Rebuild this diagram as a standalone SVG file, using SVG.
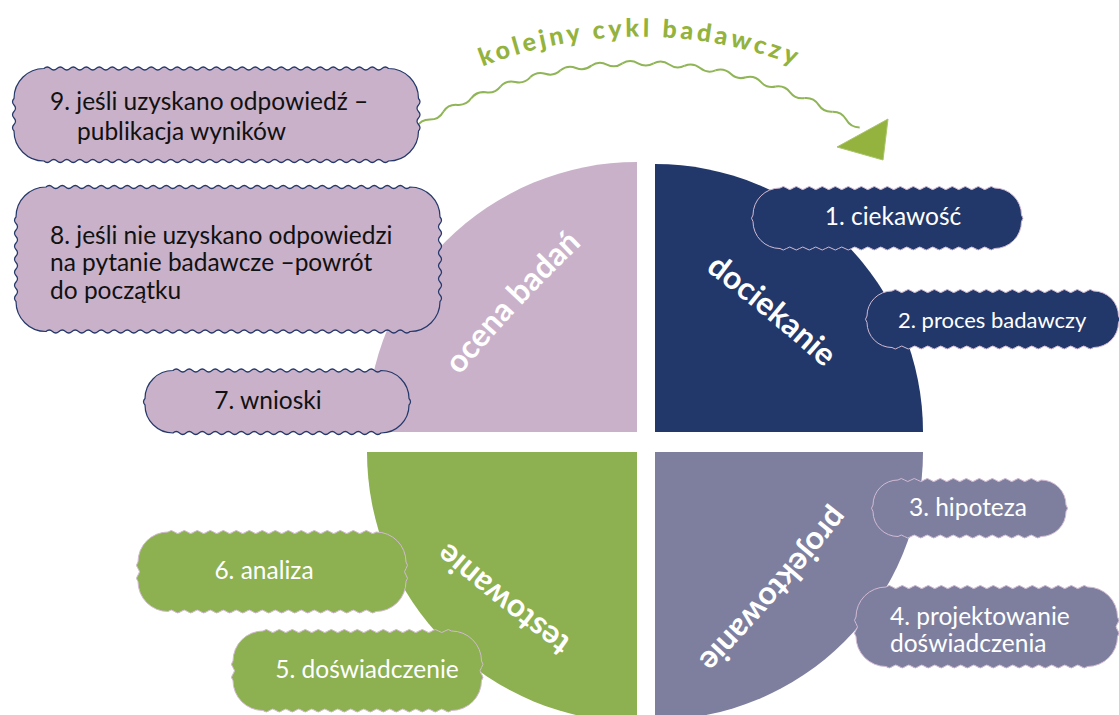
<svg xmlns="http://www.w3.org/2000/svg" xmlns:xlink="http://www.w3.org/1999/xlink" width="1119" height="715" viewBox="0 0 1119 715">
<style>
.lbl{font-family:Lato,"Liberation Sans",sans-serif;font-size:32px;font-weight:700;fill:#ffffff}
.bt{font-family:Lato,"Liberation Sans",sans-serif;font-size:24.5px;fill:#ffffff}
.bk{fill:#111111}
.pk{fill:#c9b1ca;stroke:#24386a;stroke-width:1.2}
.nv{fill:#22386a;stroke:#d2bad3;stroke-width:1}
.pu{fill:#7e7f9f;stroke:#d2bad3;stroke-width:1}
.gr{fill:#8db050;stroke:#d2bad3;stroke-width:1}
.wave{fill:none;stroke:#8fb556;stroke-width:2}
.arch{font-family:Lato,"Liberation Sans",sans-serif;font-size:25px;font-weight:900;fill:#93b33e;letter-spacing:3.5px}
</style>
<defs>
<path id="wv" d="M0 0q7.8 -4.6 15.6 0t15.6 0"/>
<path id="pArch" d="M440 86 A430 430 0 0 1 840 86"/>
<path id="pOc" d="M440.5 399.4 Q515.5 304.4 604.5 223.4"/>
<path id="pDo" d="M661.7 238.6 Q768.7 313.6 863.7 404.6"/>
<path id="pTe" d="M614.2 669.4 Q506.2 596.4 410.2 507.4"/>
<path id="pPr" d="M855.5 475.7 Q770.5 587.7 671.5 685.7"/>
</defs>
<rect width="1119" height="715" fill="#ffffff"/>

<g id="q-ocena">
<path d="M637 432 L367 432 A270 270 0 0 1 637 162 Z" fill="#c9b1ca"/>
<text class="lbl"><textPath xlink:href="#pOc" href="#pOc" startOffset="50%" text-anchor="middle">ocena badań</textPath></text>
</g>
<g id="q-dociekanie">
<path d="M655 432 L655 164 A268 268 0 0 1 923 432 Z" fill="#22386a"/>
<text class="lbl"><textPath xlink:href="#pDo" href="#pDo" startOffset="50%" text-anchor="middle">dociekanie</textPath></text>
</g>
<g id="q-testowanie">
<path d="M637 452 L367 452 A270 270 0 0 0 637 722 Z" fill="#8db050"/>
<text class="lbl"><textPath xlink:href="#pTe" href="#pTe" startOffset="50%" text-anchor="middle">testowanie</textPath></text>
</g>
<g id="q-projektowanie">
<path d="M655 452 L923 452 A268 268 0 0 1 655 720 Z" fill="#7e7f9f"/>
<text class="lbl"><textPath xlink:href="#pPr" href="#pPr" startOffset="50%" text-anchor="middle">projektowanie</textPath></text>
</g>

<g id="connectors">
<g class="wave">
<use href="#wv" xlink:href="#wv" transform="translate(416.4 127.4) rotate(-30.24)"/>
<use href="#wv" xlink:href="#wv" transform="translate(443.3 111.7) rotate(-25.92)"/>
<use href="#wv" xlink:href="#wv" transform="translate(471.4 98.1) rotate(-21.6)"/>
<use href="#wv" xlink:href="#wv" transform="translate(500.4 86.6) rotate(-17.28)"/>
<use href="#wv" xlink:href="#wv" transform="translate(530.1 77.3) rotate(-12.96)"/>
<use href="#wv" xlink:href="#wv" transform="translate(560.5 70.3) rotate(-8.64)"/>
<use href="#wv" xlink:href="#wv" transform="translate(591.3 65.7) rotate(-4.32)"/>
<use href="#wv" xlink:href="#wv" transform="translate(622.4 63.3)"/>
<use href="#wv" xlink:href="#wv" transform="translate(653.6 63.3) rotate(4.32)"/>
<use href="#wv" xlink:href="#wv" transform="translate(684.7 65.7) rotate(8.64)"/>
<use href="#wv" xlink:href="#wv" transform="translate(715.5 70.3) rotate(12.96)"/>
<use href="#wv" xlink:href="#wv" transform="translate(745.9 77.3) rotate(17.28)"/>
<use href="#wv" xlink:href="#wv" transform="translate(775.6 86.6) rotate(21.6)"/>
<use href="#wv" xlink:href="#wv" transform="translate(804.6 98.1) rotate(25.92)"/>
<use href="#wv" xlink:href="#wv" transform="translate(832.7 111.7) rotate(30.24)"/>
</g>
<polygon points="837,147 888,119 883,160" fill="#93b33e" stroke="#a9c46a" stroke-width="1" stroke-linejoin="round"/>
<text class="arch"><textPath xlink:href="#pArch" href="#pArch" startOffset="50%" text-anchor="middle">kolejny cykl badawczy</textPath></text>
</g>

<g id="box9">
<path class="pk" d="M44 68.5 q3.25 -3 6.5 0 t6.5 0 6.5 0 6.5 0 6.5 0 6.5 0 6.5 0 6.5 0 6.5 0 6.5 0 6.5 0 6.5 0 6.5 0 6.5 0 6.5 0 6.5 0 6.5 0 6.5 0 6.5 0 6.5 0 6.5 0 6.5 0 6.5 0 6.5 0 6.5 0 6.5 0 6.5 0 6.5 0 6.5 0 6.5 0 6.5 0 6.5 0 6.5 0 6.5 0 6.5 0 6.5 0 6.5 0 6.5 0 6.5 0 6.5 0 6.5 0 6.5 0 6.5 0 6.5 0 6.5 0 6.5 0 6.5 0 6.5 0 6.5 0 6.5 0 6.5 0 6.5 0 6.5 0 A30 30 0 0 1 418.5 98.5 q3 3.25 0 6.5 t0 6.5 0 6.5 0 6.5 0 6.5 A30 30 0 0 1 388.5 161 q-3.25 3 -6.5 0 t-6.5 0 -6.5 0 -6.5 0 -6.5 0 -6.5 0 -6.5 0 -6.5 0 -6.5 0 -6.5 0 -6.5 0 -6.5 0 -6.5 0 -6.5 0 -6.5 0 -6.5 0 -6.5 0 -6.5 0 -6.5 0 -6.5 0 -6.5 0 -6.5 0 -6.5 0 -6.5 0 -6.5 0 -6.5 0 -6.5 0 -6.5 0 -6.5 0 -6.5 0 -6.5 0 -6.5 0 -6.5 0 -6.5 0 -6.5 0 -6.5 0 -6.5 0 -6.5 0 -6.5 0 -6.5 0 -6.5 0 -6.5 0 -6.5 0 -6.5 0 -6.5 0 -6.5 0 -6.5 0 -6.5 0 -6.5 0 -6.5 0 -6.5 0 -6.5 0 -6.5 0 A30 30 0 0 1 14 131 q-3 -3.25 0 -6.5 t0 -6.5 0 -6.5 0 -6.5 0 -6.5 A30 30 0 0 1 44 68.5 Z"/>
<text class="bt bk" x="50" y="110">9. jeśli uzyskano odpowiedź –</text>
<text class="bt bk" x="77" y="140">publikacja wyników</text>
</g>

<g id="box8">
<path class="pk" d="M46 187 q3.25 -3 6.5 0 t6.5 0 6.5 0 6.5 0 6.5 0 6.5 0 6.5 0 6.5 0 6.5 0 6.5 0 6.5 0 6.5 0 6.5 0 6.5 0 6.5 0 6.5 0 6.5 0 6.5 0 6.5 0 6.5 0 6.5 0 6.5 0 6.5 0 6.5 0 6.5 0 6.5 0 6.5 0 6.5 0 6.5 0 6.5 0 6.5 0 6.5 0 6.5 0 6.5 0 6.5 0 6.5 0 6.5 0 6.5 0 6.5 0 6.5 0 6.5 0 6.5 0 6.5 0 6.5 0 6.5 0 6.5 0 6.5 0 6.5 0 6.5 0 6.5 0 6.5 0 6.5 0 6.5 0 6.5 0 6.5 0 6.5 0 A30 30 0 0 1 440 217 q3 3.25 0 6.5 t0 6.5 0 6.5 0 6.5 0 6.5 0 6.5 0 6.5 0 6.5 0 6.5 0 6.5 0 6.5 0 6.5 0 6.5 A30 30 0 0 1 410 331.5 q-3.25 3 -6.5 0 t-6.5 0 -6.5 0 -6.5 0 -6.5 0 -6.5 0 -6.5 0 -6.5 0 -6.5 0 -6.5 0 -6.5 0 -6.5 0 -6.5 0 -6.5 0 -6.5 0 -6.5 0 -6.5 0 -6.5 0 -6.5 0 -6.5 0 -6.5 0 -6.5 0 -6.5 0 -6.5 0 -6.5 0 -6.5 0 -6.5 0 -6.5 0 -6.5 0 -6.5 0 -6.5 0 -6.5 0 -6.5 0 -6.5 0 -6.5 0 -6.5 0 -6.5 0 -6.5 0 -6.5 0 -6.5 0 -6.5 0 -6.5 0 -6.5 0 -6.5 0 -6.5 0 -6.5 0 -6.5 0 -6.5 0 -6.5 0 -6.5 0 -6.5 0 -6.5 0 -6.5 0 -6.5 0 -6.5 0 -6.5 0 A30 30 0 0 1 16 301.5 q-3 -3.25 0 -6.5 t0 -6.5 0 -6.5 0 -6.5 0 -6.5 0 -6.5 0 -6.5 0 -6.5 0 -6.5 0 -6.5 0 -6.5 0 -6.5 0 -6.5 A30 30 0 0 1 46 187 Z"/>
<text class="bt bk" x="50" y="244">8. jeśli nie uzyskano odpowiedzi</text>
<text class="bt bk" x="50" y="271">na pytanie badawcze –powrót</text>
<text class="bt bk" x="50" y="299">do początku</text>
</g>

<g id="box7">
<path class="pk" d="M173 370.5 q3.25 -3 6.5 0 t6.5 0 6.5 0 6.5 0 6.5 0 6.5 0 6.5 0 6.5 0 6.5 0 6.5 0 6.5 0 6.5 0 6.5 0 6.5 0 6.5 0 6.5 0 6.5 0 6.5 0 6.5 0 6.5 0 6.5 0 6.5 0 6.5 0 6.5 0 6.5 0 6.5 0 6.5 0 6.5 0 6.5 0 6.5 0 6.5 0 6.5 0 A28 28 0 0 1 409 398.5 q3 3.25 0 6.5 A28 28 0 0 1 381 433 q-3.25 3 -6.5 0 t-6.5 0 -6.5 0 -6.5 0 -6.5 0 -6.5 0 -6.5 0 -6.5 0 -6.5 0 -6.5 0 -6.5 0 -6.5 0 -6.5 0 -6.5 0 -6.5 0 -6.5 0 -6.5 0 -6.5 0 -6.5 0 -6.5 0 -6.5 0 -6.5 0 -6.5 0 -6.5 0 -6.5 0 -6.5 0 -6.5 0 -6.5 0 -6.5 0 -6.5 0 -6.5 0 -6.5 0 A28 28 0 0 1 145 405 q-3 -3.25 0 -6.5 A28 28 0 0 1 173 370.5 Z"/>
<text class="bt bk" x="268" y="409" text-anchor="middle">7. wnioski</text>
</g>

<g id="box1">
<path class="nv" d="M780 188 q3.25 -3 6.5 0 t6.5 0 6.5 0 6.5 0 6.5 0 6.5 0 6.5 0 6.5 0 6.5 0 6.5 0 6.5 0 6.5 0 6.5 0 6.5 0 6.5 0 6.5 0 6.5 0 6.5 0 6.5 0 6.5 0 6.5 0 6.5 0 6.5 0 6.5 0 6.5 0 6.5 0 6.5 0 6.5 0 6.5 0 6.5 0 6.5 0 6.5 0 6.5 0 A27 27 0 0 1 1021.5 215 q3 3.25 0 6.5 A27 27 0 0 1 994.5 248.5 q-3.25 3 -6.5 0 t-6.5 0 -6.5 0 -6.5 0 -6.5 0 -6.5 0 -6.5 0 -6.5 0 -6.5 0 -6.5 0 -6.5 0 -6.5 0 -6.5 0 -6.5 0 -6.5 0 -6.5 0 -6.5 0 -6.5 0 -6.5 0 -6.5 0 -6.5 0 -6.5 0 -6.5 0 -6.5 0 -6.5 0 -6.5 0 -6.5 0 -6.5 0 -6.5 0 -6.5 0 -6.5 0 -6.5 0 -6.5 0 A27 27 0 0 1 753 221.5 q-3 -3.25 0 -6.5 A27 27 0 0 1 780 188 Z"/>
<text class="bt" x="893" y="225" text-anchor="middle">1. ciekawość</text>
</g>

<g id="box2">
<path class="nv" d="M892 291 q3.25 -3 6.5 0 t6.5 0 6.5 0 6.5 0 6.5 0 6.5 0 6.5 0 6.5 0 6.5 0 6.5 0 6.5 0 6.5 0 6.5 0 6.5 0 6.5 0 6.5 0 6.5 0 6.5 0 6.5 0 6.5 0 6.5 0 6.5 0 6.5 0 6.5 0 6.5 0 6.5 0 6.5 0 6.5 0 6.5 0 6.5 0 6.5 0 A25 25 0 0 1 1118.5 316 q3 3.25 0 6.5 A25 25 0 0 1 1093.5 347.5 q-3.25 3 -6.5 0 t-6.5 0 -6.5 0 -6.5 0 -6.5 0 -6.5 0 -6.5 0 -6.5 0 -6.5 0 -6.5 0 -6.5 0 -6.5 0 -6.5 0 -6.5 0 -6.5 0 -6.5 0 -6.5 0 -6.5 0 -6.5 0 -6.5 0 -6.5 0 -6.5 0 -6.5 0 -6.5 0 -6.5 0 -6.5 0 -6.5 0 -6.5 0 -6.5 0 -6.5 0 -6.5 0 A25 25 0 0 1 867 322.5 q-3 -3.25 0 -6.5 A25 25 0 0 1 892 291 Z"/>
<text class="bt" x="898" y="328" style="font-size:22px">2. proces badawczy</text>
</g>

<g id="box3">
<path class="pu" d="M898 480 q3.25 -3 6.5 0 t6.5 0 6.5 0 6.5 0 6.5 0 6.5 0 6.5 0 6.5 0 6.5 0 6.5 0 6.5 0 6.5 0 6.5 0 6.5 0 6.5 0 6.5 0 6.5 0 6.5 0 6.5 0 6.5 0 6.5 0 6.5 0 A25 25 0 0 1 1066 505 q3 3.25 0 6.5 A25 25 0 0 1 1041 536.5 q-3.25 3 -6.5 0 t-6.5 0 -6.5 0 -6.5 0 -6.5 0 -6.5 0 -6.5 0 -6.5 0 -6.5 0 -6.5 0 -6.5 0 -6.5 0 -6.5 0 -6.5 0 -6.5 0 -6.5 0 -6.5 0 -6.5 0 -6.5 0 -6.5 0 -6.5 0 -6.5 0 A25 25 0 0 1 873 511.5 q-3 -3.25 0 -6.5 A25 25 0 0 1 898 480 Z"/>
<text class="bt" x="968" y="516" text-anchor="middle">3. hipoteza</text>
</g>

<g id="box4">
<path class="pu" d="M886 587 q3.25 -3 6.5 0 t6.5 0 6.5 0 6.5 0 6.5 0 6.5 0 6.5 0 6.5 0 6.5 0 6.5 0 6.5 0 6.5 0 6.5 0 6.5 0 6.5 0 6.5 0 6.5 0 6.5 0 6.5 0 6.5 0 6.5 0 6.5 0 6.5 0 6.5 0 6.5 0 6.5 0 6.5 0 6.5 0 6.5 0 6.5 0 6.5 0 A30 30 0 0 1 1117.5 617 q3 3.25 0 6.5 t0 6.5 0 6.5 A30 30 0 0 1 1087.5 666.5 q-3.25 3 -6.5 0 t-6.5 0 -6.5 0 -6.5 0 -6.5 0 -6.5 0 -6.5 0 -6.5 0 -6.5 0 -6.5 0 -6.5 0 -6.5 0 -6.5 0 -6.5 0 -6.5 0 -6.5 0 -6.5 0 -6.5 0 -6.5 0 -6.5 0 -6.5 0 -6.5 0 -6.5 0 -6.5 0 -6.5 0 -6.5 0 -6.5 0 -6.5 0 -6.5 0 -6.5 0 -6.5 0 A30 30 0 0 1 856 636.5 q-3 -3.25 0 -6.5 t0 -6.5 0 -6.5 A30 30 0 0 1 886 587 Z"/>
<text class="bt" x="890" y="625">4. projektowanie</text>
<text class="bt" x="890" y="652">doświadczenia</text>
</g>

<g id="box6">
<path class="gr" d="M168 532 q3.25 -3 6.5 0 t6.5 0 6.5 0 6.5 0 6.5 0 6.5 0 6.5 0 6.5 0 6.5 0 6.5 0 6.5 0 6.5 0 6.5 0 6.5 0 6.5 0 6.5 0 6.5 0 6.5 0 6.5 0 6.5 0 6.5 0 6.5 0 6.5 0 6.5 0 6.5 0 6.5 0 6.5 0 6.5 0 6.5 0 6.5 0 6.5 0 6.5 0 A30 30 0 0 1 406 562 q3 3.25 0 6.5 t0 6.5 0 6.5 A30 30 0 0 1 376 611.5 q-3.25 3 -6.5 0 t-6.5 0 -6.5 0 -6.5 0 -6.5 0 -6.5 0 -6.5 0 -6.5 0 -6.5 0 -6.5 0 -6.5 0 -6.5 0 -6.5 0 -6.5 0 -6.5 0 -6.5 0 -6.5 0 -6.5 0 -6.5 0 -6.5 0 -6.5 0 -6.5 0 -6.5 0 -6.5 0 -6.5 0 -6.5 0 -6.5 0 -6.5 0 -6.5 0 -6.5 0 -6.5 0 -6.5 0 A30 30 0 0 1 138 581.5 q-3 -3.25 0 -6.5 t0 -6.5 0 -6.5 A30 30 0 0 1 168 532 Z"/>
<text class="bt" x="264" y="579" text-anchor="middle">6. analiza</text>
</g>

<g id="box5">
<path class="gr" d="M263 631 q3.25 -3 6.5 0 t6.5 0 6.5 0 6.5 0 6.5 0 6.5 0 6.5 0 6.5 0 6.5 0 6.5 0 6.5 0 6.5 0 6.5 0 6.5 0 6.5 0 6.5 0 6.5 0 6.5 0 6.5 0 6.5 0 6.5 0 6.5 0 6.5 0 6.5 0 6.5 0 6.5 0 6.5 0 6.5 0 6.5 0 A30 30 0 0 1 481.5 661 q3 3.25 0 6.5 t0 6.5 0 6.5 A30 30 0 0 1 451.5 710.5 q-3.25 3 -6.5 0 t-6.5 0 -6.5 0 -6.5 0 -6.5 0 -6.5 0 -6.5 0 -6.5 0 -6.5 0 -6.5 0 -6.5 0 -6.5 0 -6.5 0 -6.5 0 -6.5 0 -6.5 0 -6.5 0 -6.5 0 -6.5 0 -6.5 0 -6.5 0 -6.5 0 -6.5 0 -6.5 0 -6.5 0 -6.5 0 -6.5 0 -6.5 0 -6.5 0 A30 30 0 0 1 233 680.5 q-3 -3.25 0 -6.5 t0 -6.5 0 -6.5 A30 30 0 0 1 263 631 Z"/>
<text class="bt" x="367" y="678" text-anchor="middle">5. doświadczenie</text>
</g>
</svg>
